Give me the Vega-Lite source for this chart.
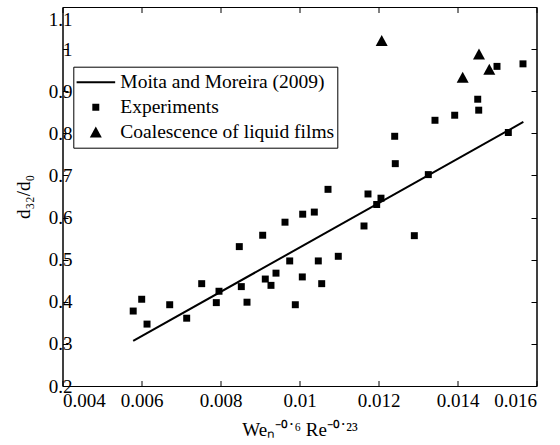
{
  "$schema": "https://vega.github.io/schema/vega-lite/v6.json",
  "autosize": "none",
  "width": 474,
  "height": 379,
  "padding": {"left": 62.5, "top": 7, "right": 23.5, "bottom": 59},
  "background": "white",
  "config": {
    "view": {"stroke": "black", "strokeWidth": 1},
    "font": "Liberation Serif",
    "axis": {
      "grid": false,
      "domainColor": "black",
      "tickColor": "black",
      "tickSize": -5.5,
      "labelFont": "Liberation Serif",
      "labelFontSize": 19,
      "labelColor": "black",
      "titleFont": "Liberation Serif",
      "titleFontSize": 19,
      "titleFontWeight": "normal",
      "titleColor": "black"
    }
  },
  "datasets": {
    "fit": [
      {"x": 0.00579, "y": 0.307},
      {"x": 0.015667, "y": 0.827}
    ],
    "pts": [
      {"x": 0.00579, "y": 0.378, "series": "Experiments"},
      {"x": 0.006005, "y": 0.406, "series": "Experiments"},
      {"x": 0.00614, "y": 0.347, "series": "Experiments"},
      {"x": 0.006714, "y": 0.393, "series": "Experiments"},
      {"x": 0.007144, "y": 0.361, "series": "Experiments"},
      {"x": 0.007524, "y": 0.443, "series": "Experiments"},
      {"x": 0.007894, "y": 0.398, "series": "Experiments"},
      {"x": 0.007962, "y": 0.425, "series": "Experiments"},
      {"x": 0.008476, "y": 0.531, "series": "Experiments"},
      {"x": 0.008527, "y": 0.436, "series": "Experiments"},
      {"x": 0.008671, "y": 0.399, "series": "Experiments"},
      {"x": 0.009068, "y": 0.558, "series": "Experiments"},
      {"x": 0.009134, "y": 0.454, "series": "Experiments"},
      {"x": 0.009278, "y": 0.439, "series": "Experiments"},
      {"x": 0.009405, "y": 0.468, "series": "Experiments"},
      {"x": 0.009633, "y": 0.589, "series": "Experiments"},
      {"x": 0.009752, "y": 0.497, "series": "Experiments"},
      {"x": 0.009894, "y": 0.393, "series": "Experiments"},
      {"x": 0.010071, "y": 0.459, "series": "Experiments"},
      {"x": 0.010081, "y": 0.608, "series": "Experiments"},
      {"x": 0.010375, "y": 0.613, "series": "Experiments"},
      {"x": 0.010476, "y": 0.497, "series": "Experiments"},
      {"x": 0.010562, "y": 0.443, "series": "Experiments"},
      {"x": 0.010722, "y": 0.667, "series": "Experiments"},
      {"x": 0.010982, "y": 0.508, "series": "Experiments"},
      {"x": 0.011633, "y": 0.58, "series": "Experiments"},
      {"x": 0.011734, "y": 0.656, "series": "Experiments"},
      {"x": 0.011954, "y": 0.631, "series": "Experiments"},
      {"x": 0.012063, "y": 0.646, "series": "Experiments"},
      {"x": 0.01241, "y": 0.793, "series": "Experiments"},
      {"x": 0.012425, "y": 0.728, "series": "Experiments"},
      {"x": 0.012907, "y": 0.557, "series": "Experiments"},
      {"x": 0.013261, "y": 0.702, "series": "Experiments"},
      {"x": 0.01343, "y": 0.831, "series": "Experiments"},
      {"x": 0.013929, "y": 0.843, "series": "Experiments"},
      {"x": 0.014512, "y": 0.881, "series": "Experiments"},
      {"x": 0.014537, "y": 0.855, "series": "Experiments"},
      {"x": 0.015, "y": 0.959, "series": "Experiments"},
      {"x": 0.015287, "y": 0.802, "series": "Experiments"},
      {"x": 0.015658, "y": 0.965, "series": "Experiments"},
      {"x": 0.012081, "y": 1.02, "series": "Coalescence of liquid films"},
      {"x": 0.014544, "y": 0.988, "series": "Coalescence of liquid films"},
      {"x": 0.014131, "y": 0.933, "series": "Coalescence of liquid films"},
      {"x": 0.014805, "y": 0.952, "series": "Coalescence of liquid films"}
    ]
  },
  "layer": [
    {
      "data": {"name": "fit"},
      "mark": {"type": "line", "color": "black", "strokeWidth": 2},
      "encoding": {
        "x": {
          "field": "x", "type": "quantitative",
          "scale": {"domain": [0.004, 0.016], "nice": false, "zero": false},
          "axis": {
            "orient": "bottom",
            "values": [0.004, 0.006, 0.008, 0.01, 0.012, 0.014, 0.016],
            "format": "~g",
            "labelPadding": 11,
            "title": "Weₙ⁻⁰˙⁶ Re⁻⁰˙²³",
            "titlePadding": 10
          }
        },
        "y": {
          "field": "y", "type": "quantitative",
          "scale": {"domain": [0.2, 1.1], "nice": false, "zero": false},
          "axis": {
            "orient": "left",
            "values": [0.2, 0.3, 0.4, 0.5, 0.6, 0.7, 0.8, 0.9, 1, 1.1],
            "format": "~g",
            "labelExpr": "datum.value > 1.05 ? ['', datum.label] : datum.label",
            "labelLineHeight": 12,
            "labelPadding": -4,
            "title": "d₃₂/d₀",
            "titlePadding": 15
          }
        }
      }
    },
    {
      "data": {"name": "pts"},
      "mark": {"type": "point", "filled": true, "color": "black", "size": 1500, "opacity": 1},
      "encoding": {
        "x": {
          "field": "x", "type": "quantitative",
          "axis": {
            "orient": "top",
            "values": [0.004, 0.006, 0.008, 0.01, 0.012, 0.014, 0.016],
            "labels": false,
            "title": null
          }
        },
        "y": {
          "field": "y", "type": "quantitative",
          "axis": {
            "orient": "right",
            "values": [0.2, 0.3, 0.4, 0.5, 0.6, 0.7, 0.8, 0.9, 1, 1.1],
            "labels": false,
            "title": null
          }
        },
        "shape": {
          "field": "series", "type": "nominal",
          "scale": {
            "domain": ["Moita and Moreira (2009)", "Experiments", "Coalescence of liquid films"],
            "range": ["M-1,-0.05H1V0.05H-1Z", "M-0.18,-0.18H0.18V0.18H-0.18Z", "M0,-0.29L0.31,0.28L-0.31,0.28Z"]
          },
          "legend": {
            "orient": "none",
            "legendX": 10.8,
            "legendY": 59.7,
            "title": null,
            "padding": 3,
            "rowPadding": 0,
            "clipHeight": 25,
            "strokeColor": "black",
            "fillColor": "white",
            "symbolSize": 1500,
            "symbolFillColor": "black",
            "symbolStrokeWidth": 0,
            "symbolOpacity": 1,
            "labelFont": "Liberation Serif",
            "labelFontSize": 19.5,
            "labelColor": "black",
            "labelLimit": 400,
            "labelOffset": 5
          }
        }
      }
    }
  ],
  "resolve": {"axis": {"x": "independent", "y": "independent"}}
}
